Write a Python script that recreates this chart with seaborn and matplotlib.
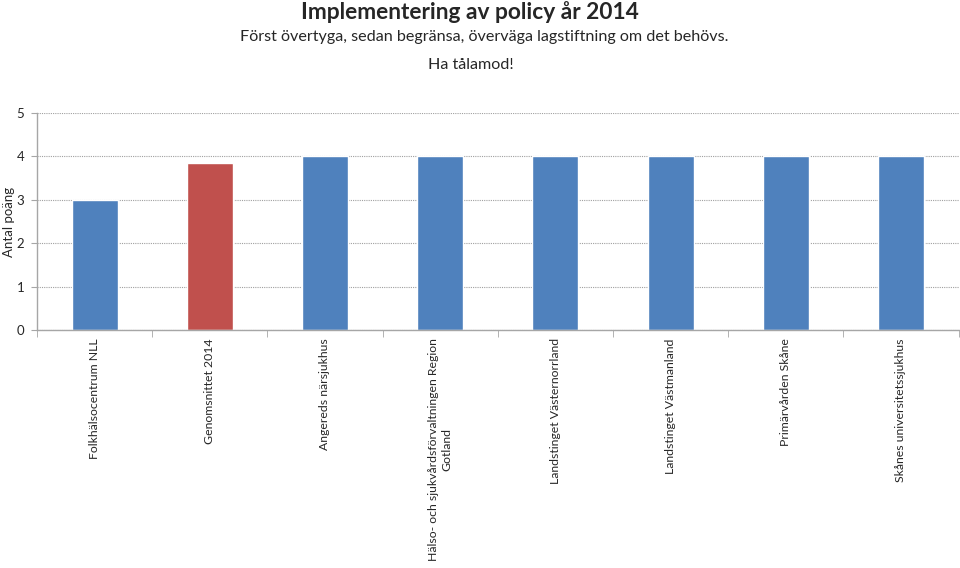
import numpy as np
import pandas as pd
import matplotlib
matplotlib.use("Agg")
import matplotlib.pyplot as plt
import seaborn as sns

# Data
categories = [
    "Folkhälsocentrum NLL",
    "Genomsnittet 2014",
    "Angereds närsjukhus",
    "Hälso- och sjukvårdsförvaltningen Region\nGotland",
    "Landstinget Västernorrland",
    "Landstinget Västmanland",
    "Primärvården Skåne",
    "Skånes universitetssjukhus",
]
scores = [3, 3.85, 4, 4, 4, 4, 4, 4]
bar_colors = ["#4F81BD", "#C0504D", "#4F81BD", "#4F81BD",
              "#4F81BD", "#4F81BD", "#4F81BD", "#4F81BD"]

title = "Implementering av policy år 2014"
subtitle = "Först övertyga, sedan begränsa, överväga lagstiftning om det behövs."
subtitle2 = "Ha tålamod!"

df = pd.DataFrame({"kategori": categories, "poang": scores})

sns.set_style("white")
plt.rcParams["font.family"] = ["Lato", "DejaVu Sans"]

fig = plt.figure(figsize=(9.6, 5.68), dpi=100)
ax = fig.add_axes([0.0385, 0.419, 0.96, 0.382])

sns.barplot(data=df, x="kategori", y="poang", hue="kategori",
            palette=bar_colors, legend=False, width=0.4, ax=ax,
            saturation=1)

ax.set_ylim(0, 5)
ax.set_xlim(-0.5, len(categories) - 0.5)
ax.set_yticks([0, 1, 2, 3, 4, 5])
ax.yaxis.grid(True, color="#A0A0A0", linestyle=(0, (1, 1)), linewidth=0.8)
ax.set_axisbelow(True)

for s in ["top", "right"]:
    ax.spines[s].set_visible(False)
for s in ["left", "bottom"]:
    ax.spines[s].set_color("#A6A6A6")
    ax.spines[s].set_linewidth(1)

# category labels rotated, tick marks at category boundaries
ax.set_xticks(range(len(categories)))
ax.set_xticklabels(categories, rotation=90, va="top", ha="center",
                   fontsize=8.8, multialignment="center")
ax.tick_params(axis="x", length=0, pad=6)
ax.set_xticks(np.arange(-0.5, len(categories), 1), minor=True)
ax.tick_params(axis="x", which="minor", length=5, color="#A6A6A6",
               direction="out", bottom=True)
ax.tick_params(axis="y", length=4, color="#A6A6A6", left=True,
               labelsize=9.5, pad=5)

ax.set_xlabel("")
ax.set_ylabel("Antal poäng", fontsize=9.5)
ax.yaxis.set_label_coords(-0.024, 0.5)

fig.text(0.49, 0.978, title, ha="center", va="center",
         fontsize=16.4, fontweight="bold")
fig.text(0.504, 0.935, subtitle, ha="center", va="center", fontsize=11.6)
fig.text(0.49, 0.886, subtitle2, ha="center", va="center", fontsize=11.6)

fig.savefig("out.png", dpi=100)
